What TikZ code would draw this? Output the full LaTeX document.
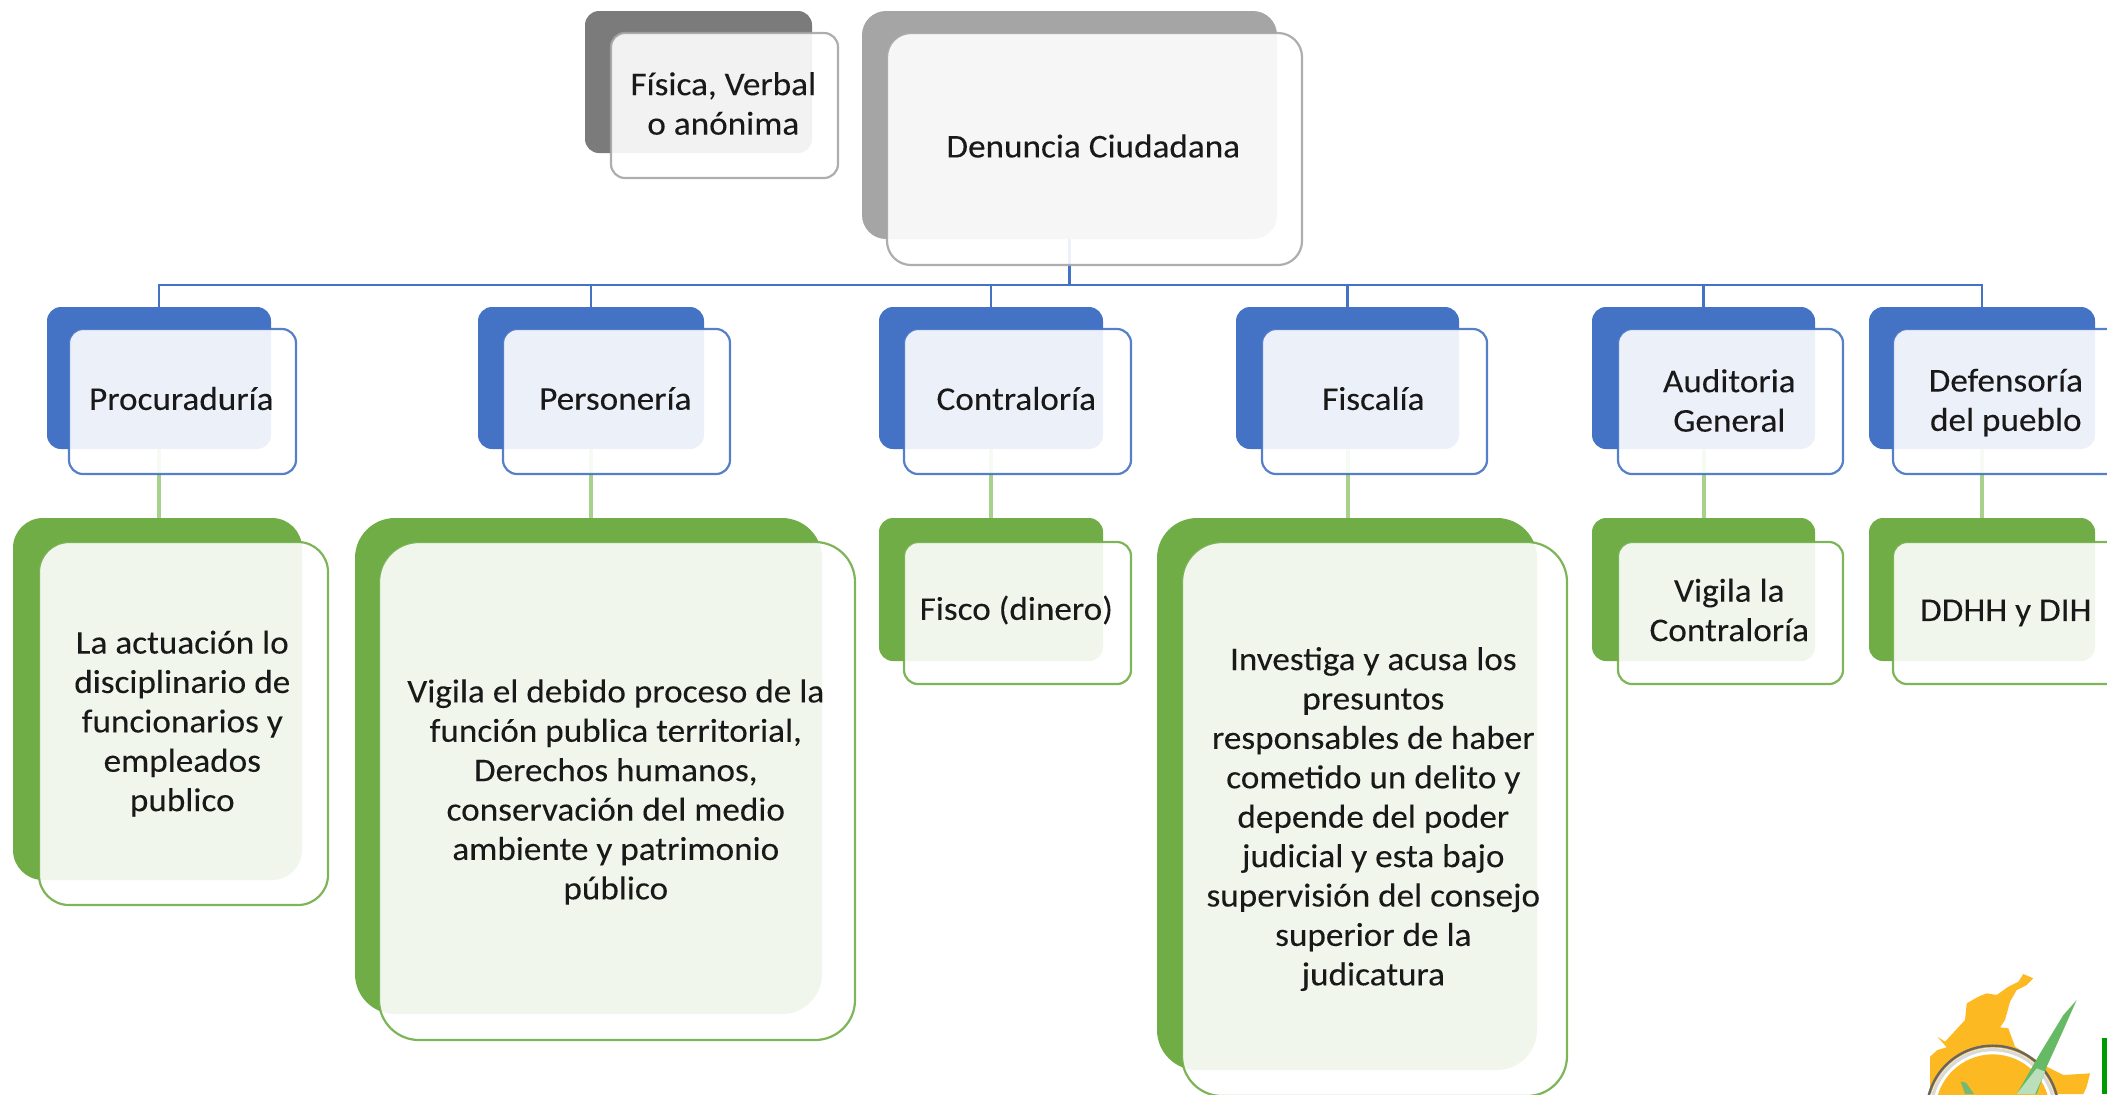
\documentclass[tikz,border=0pt]{standalone}
\usepackage{fontspec}
\setmainfont{Carlito}
\newfontfamily\cardfont[FakeStretch=1.06,FakeBold=0.12]{Carlito}
\definecolor{cblue}{HTML}{4472C4}
\definecolor{cgreen}{HTML}{70AD47}
\definecolor{cgray}{HTML}{A5A5A5}
\definecolor{cdark}{HTML}{7B7B7B}
\definecolor{lgreen}{HTML}{A9D18E}
\definecolor{cyellow}{HTML}{FDB922}
\tikzset{
  backcard/.style={rectangle,inner sep=0pt,outer sep=0pt,draw=none},
  frontcard/.style={rectangle,inner sep=0pt,outer sep=0pt,line width=1.1pt,fill=white,fill opacity=.9,draw opacity=.9},
  cardtext/.style={inner sep=0pt,outer sep=0pt,text=black!90,align=center,font=\cardfont\fontsize{16.6}{19.7}\selectfont},
  busline/.style={draw=cblue,line width=1.3pt},
  subline/.style={draw=lgreen,line width=2pt}
}
% name, x1,y1,x2,y2, radius, colour
\newcommand\mkback[7]{\node[backcard,fill=#7,rounded corners=#6*0.5pt,minimum width={(#4-#2)*0.5pt},minimum height={(#5-#3)*0.5pt}] (#1) at ({(#2+#4)/2},{(#3+#5)/2}) {};}
% name, x1,y1,x2,y2, radius, colour, text, vertical offset of the text
\newcommand\mkfront[9]{\node[frontcard,draw=#7,rounded corners=#6*0.5pt,minimum width={(#4-#2)*0.5pt},minimum height={(#5-#3)*0.5pt}] (#1) at ({(#2+#4)/2},{(#3+#5)/2}) {};
\node[cardtext] (#1t) at ([xshift=-0.6pt,yshift=#9*-0.5pt]#1.center) {#8};}
\begin{document}
\begin{tikzpicture}[x=0.5pt,y=-0.5pt]
\useasboundingbox (0,0) rectangle (2107,1094);
\clip (0,0) rectangle (2107,1094);
% logo
\begin{scope}[shift={(1850,940)},x=0.16667pt,y=-0.16667pt]
\fill[cyellow] (240,350) -- (262,330) -- (290,322) -- (262,290) -- (285,305) -- (345,240) -- (350,190) -- (385,170) -- (410,160) -- (440,165) -- (475,140) -- (505,125) -- (520,102) -- (550,115) -- (530,135) -- (500,150) -- (480,185) -- (465,240) -- (450,262) -- (475,265) -- (495,320) -- (560,360) -- (590,380) -- (640,405) -- (720,400) -- (710,440) -- (700,462) -- (240,462) -- cycle;
\fill[white] (428,515) circle (192);
\fill[cyellow] (428,515) circle (172);
\draw[black!60,line width=1.2pt] (428,515) circle (198);
\draw[black!15,line width=1.6pt] (428,515) circle (186);
\fill[green!55!black!60!white] (680,180) -- (640,225) -- (570,340) -- (500,462) -- (560,462) -- (590,380) -- (640,270) -- cycle;
\fill[white,opacity=.55] (560,385) -- (500,462) -- (555,462) -- (585,395) -- cycle;
\fill[green!50!black!55!white] (332,425) -- (345,462) -- (372,462) -- (348,428) -- cycle;
\fill[green!60!black] (757,295) rectangle (771,462);
\end{scope}
% back cards
\mkback{bfis}{585}{11}{812}{153}{14}{cdark}
\mkback{bden}{862}{11}{1277}{239}{24}{cgray}
\mkback{b1}{47}{307}{271}{449}{14}{cblue}
\mkback{b2}{478}{307}{704}{449}{14}{cblue}
\mkback{b3}{879}{307}{1103}{449}{14}{cblue}
\mkback{b4}{1236}{307}{1459}{449}{14}{cblue}
\mkback{b5}{1592}{307}{1815}{449}{14}{cblue}
\mkback{b6}{1869}{307}{2095}{449}{14}{cblue}
\mkback{g1}{13}{518}{302}{880}{30}{cgreen}
\mkback{g2}{355}{518}{822}{1014}{40}{cgreen}
\mkback{g3}{879}{518}{1103}{661}{14}{cgreen}
\mkback{g4}{1157}{518}{1537}{1070}{40}{cgreen}
\mkback{g5}{1592}{518}{1815}{661}{14}{cgreen}
\mkback{g6}{1869}{518}{2095}{661}{14}{cgreen}
% connectors
\coordinate (bus) at (bden.south |- 0,285);
\draw[busline,line width=1.8pt] (bden.south) -- (bus);
\foreach \k in {b1,b2,b3,b4,b5,b6} {
  \draw[busline] (bus) -- (bus -| \k.north) -- (\k.north);
}
\foreach \k/\m in {b1/g1,b2/g2,b3/g3,b4/g4,b5/g5,b6/g6} {
  \draw[subline] (\k.south) -- (\k.south |- \m.north);
}
% front cards
\mkfront{ffis}{611}{33}{838}{178}{14}{cgray}{Física, Verbal\\o anónima}{-2}
\mkfront{fden}{887}{33}{1302}{265}{24}{cgray}{Denuncia Ciudadana}{-3}
\mkfront{f1}{69}{329}{296}{474}{14}{cblue}{Procuraduría}{-3}
\mkfront{f2}{503}{329}{730}{474}{14}{cblue}{Personería}{-3}
\mkfront{f3}{904}{329}{1131}{474}{14}{cblue}{Contraloría}{-3}
\mkfront{f4}{1262}{329}{1487}{474}{14}{cblue}{Fiscalía}{-3}
\mkfront{f5}{1618}{329}{1843}{474}{14}{cblue}{Auditoria\\General}{-1}
\mkfront{f6}{1893}{329}{2121}{474}{14}{cblue}{Defensoría\\del pueblo}{1}
\mkfront{h1}{39}{542}{328}{905}{30}{cgreen}{La actuación lo\\disciplinario de\\funcionarios y\\empleados\\publico}{0}
\mkfront{h2}{379}{542}{855}{1040}{40}{cgreen}{Vigila el debido proceso de la\\función publica territorial,\\Derechos humanos,\\conservación del medio\\ambiente y patrimonio\\público}{1}
\mkfront{h3}{904}{542}{1131}{684}{14}{cgreen}{Fisco (dinero)}{-3}
\mkfront{h4}{1182}{542}{1567}{1096}{40}{cgreen}{Investiga y acusa los\\presuntos\\responsables de haber\\cometido un delito y\\depende del poder\\judicial y esta bajo\\supervisión del consejo\\superior de la\\judicatura}{0}
\mkfront{h5}{1618}{542}{1843}{684}{14}{cgreen}{Vigila la\\Contraloría}{-3}
\mkfront{h6}{1893}{542}{2121}{684}{14}{cgreen}{DDHH y DIH}{0}
\end{tikzpicture}
\end{document}
